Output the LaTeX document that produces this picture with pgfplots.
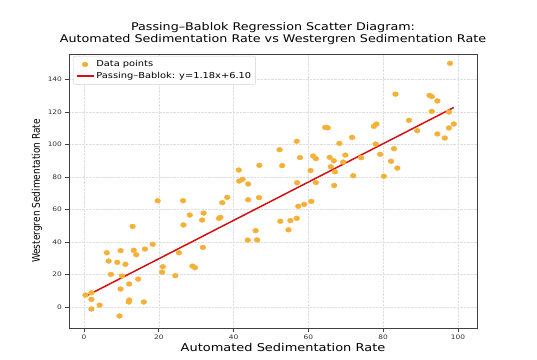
\documentclass[border=0pt]{standalone}
\usepackage{fontspec}
\setmainfont{DejaVu Sans}[FakeStretch=1.2]
\newfontfamily\ylabfont{DejaVu Sans}[FakeStretch=0.85]
\usepackage{pgfplots}
\usepackage{pgfplotstable}
\pgfplotsset{compat=1.18}
\definecolor{ptcol}{RGB}{246,176,56}
\definecolor{linecol}{RGB}{212,16,16}

\pgfplotstableread{
x y
0.4 7.4
2.0 8.8
2.0 4.7
2.0 -1.2
4.2 1.2
9.5 -5.5
6.1 33.4
6.6 28.3
7.2 20.1
8.9 27.5
9.8 34.7
10.2 19.1
9.8 11.1
11.1 26.3
12.1 14.2
12.1 4.3
12.0 3.1
13.0 49.6
13.3 34.9
14.0 32.2
14.5 17.2
16.0 3.1
16.3 35.7
18.4 38.6
19.7 65.4
21.1 24.8
20.9 21.5
24.4 19.3
25.4 33.4
26.5 65.4
26.6 50.5
28.3 56.6
29.0 25.2
29.7 24.2
31.6 53.5
32.0 57.8
31.8 36.7
36.1 54.6
36.5 55.2
37.0 64.2
38.3 67.5
41.4 84.3
41.5 77.5
42.4 78.6
43.9 75.7
43.9 66.0
43.8 41.2
45.9 47.0
46.3 41.3
46.8 67.3
46.9 87.2
52.3 96.8
53.0 87.0
52.5 52.8
54.7 47.5
55.2 53.2
56.9 54.6
57.3 62.0
57.0 76.5
56.9 102.0
57.8 92.0
58.9 63.2
60.8 65.0
60.6 84.0
61.3 92.9
62.0 91.3
62.0 76.6
64.5 110.5
65.2 110.3
65.7 92.1
66.0 86.3
66.8 90.0
67.1 83.2
66.9 74.8
68.3 100.7
69.9 93.5
69.3 89.2
71.7 104.4
72.0 80.8
74.1 91.9
77.5 111.2
78.2 112.6
78.0 100.3
79.2 94.0
80.2 80.5
82.9 97.4
82.1 89.7
83.8 85.5
83.3 131.0
86.9 114.9
89.1 108.5
92.4 130.2
93.0 129.5
94.5 126.8
93.0 120.4
94.5 106.5
96.5 104.0
97.6 120.0
97.6 110.2
98.9 112.6
97.9 150.0
}\pointdata

\pgfplotstableread{
x y
0.3 6.45
98.9 122.80
}\linedata

\begin{document}
\begin{tikzpicture}
\useasboundingbox (-69pt,-31pt) rectangle (468pt,328pt);
\begin{axis}[
  at={(0,0)}, anchor=south west,
  scale only axis, width=408pt, height=274pt,
  xmin=-4.0, xmax=105.1, ymin=-12.9, ymax=155.7,
  xtick={0,20,...,100}, ytick={0,20,...,140},
  tick pos=left, tick align=outside,
  major tick length=3.5pt,
  every tick/.style={draw=black!75, line width=0.6pt},
  axis line style={draw=black!75, line width=0.8pt},
  grid=major,
  grid style={densely dotted, draw=gray!25, line width=0.5pt},
  /pgf/number format/assume math mode=true,
  tick label style={font=\fontsize{6.2}{7}\selectfont, text=black!80},
  title={Passing--Bablok Regression Scatter Diagram:\\Automated Sedimentation Rate vs Westergren Sedimentation Rate},
  title style={font=\fontsize{10.6}{12}\selectfont, align=center, at={(axis description cs:0.5,1)}, anchor=south, inner sep=0pt, yshift=3pt},
  xlabel={Automated Sedimentation Rate},
  xlabel style={font=\fontsize{10.8}{12}\selectfont, at={(axis description cs:0.5,0)}, anchor=center, inner sep=0pt, yshift=-19pt, xshift=10pt},
  ylabel={\ylabfont Westergren Sedimentation Rate},
  ylabel style={font=\fontsize{10.6}{12}\selectfont, at={(axis description cs:-0.0784,0.5)}, anchor=center, inner sep=0pt},
  legend style={at={(axis description cs:0.01,0.993)}, anchor=north west, draw=gray!35, rounded corners=2pt, font=\fontsize{8.2}{9}\selectfont, fill=white, row sep=0pt, inner sep=2.5pt},
  legend cell align=left,
]
\addplot[only marks, color=ptcol, mark=*, mark size=2.4pt, mark options={xscale=1.2, draw=none, fill=ptcol}] table[x=x, y=y] {\pointdata};
\addlegendentry{Data points}
\addplot[linecol, line width=1.5pt] table[x=x, y=y] {\linedata};
\addlegendentry{Passing--Bablok: y=1.18x+6.10}
\end{axis}
\end{tikzpicture}
\end{document}
